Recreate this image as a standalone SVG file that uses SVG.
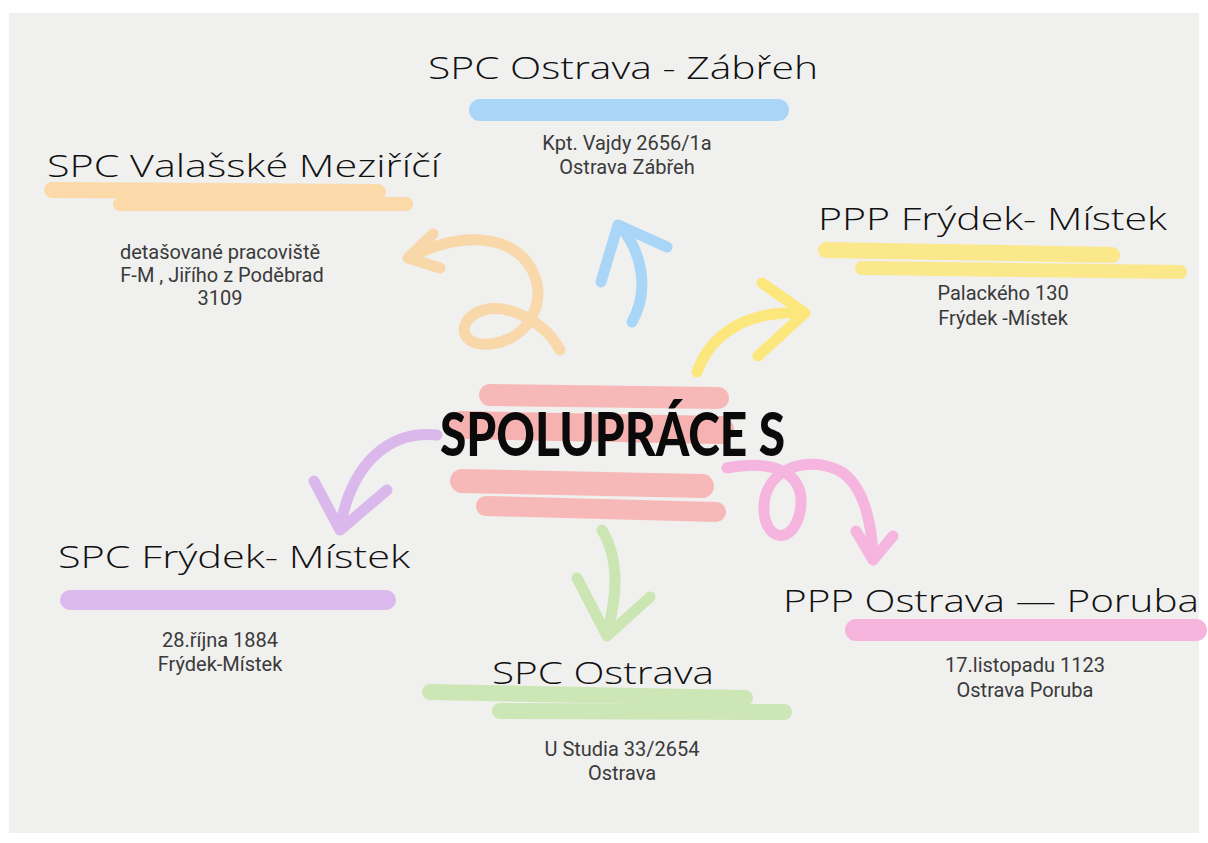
<svg xmlns="http://www.w3.org/2000/svg" width="1208" height="843" viewBox="0 0 1208 843">
<defs>
<style>
.hand{font-family:"Open Sans","Liberation Sans",sans-serif;font-size:31px;fill:#111;font-weight:300}
.addr{font-family:"Roboto","Liberation Sans",sans-serif;font-size:20px;fill:#3a3a3a;text-anchor:middle}
.hl{fill:none;stroke-linecap:round;stroke-linejoin:round}
.arr{fill:none;stroke-width:11;stroke-linecap:round;stroke-linejoin:round}
.title{font-family:"Lato","DejaVu Sans",sans-serif;font-weight:900;font-size:60px;fill:#0a0a0a}
</style>
</defs>
<rect x="0" y="0" width="1208" height="843" fill="#ffffff"/>
<rect x="9" y="13" width="1190" height="820" fill="#f0f0ef"/>

<g id="center">
<path class="hl" d="M490 395 L718 398" stroke="#f7b9b7" stroke-width="22"/>
<path class="hl" d="M462 425 L720 430" stroke="#f6b2b0" stroke-width="28"/>
<path class="hl" d="M462 481 L702 486" stroke="#f7b9b7" stroke-width="24"/>
<path class="hl" d="M486 506 L716 512" stroke="#f7b9b7" stroke-width="20"/>
<text class="title" x="440" y="456" textLength="345" lengthAdjust="spacingAndGlyphs">SPOLUPRÁCE S</text>
</g>

<g id="connectors">
<g stroke="#f9d7a6" opacity="0.95">
<path class="arr" d="M560 350 C545 322 505 300 478 312 C455 324 462 347 490 344 C530 340 548 300 532 270 C515 238 468 228 410 257"/>
<path class="arr" d="M433 234 L408 258 L440 268"/>
</g>
<g stroke="#a9d5f6">
<path class="arr" d="M632 322 C650 290 642 252 620 226"/>
<path class="arr" d="M601 282 L618 225 L667 247"/>
</g>
<g stroke="#fbe77c">
<path class="arr" d="M697 372 C712 330 752 310 804 313"/>
<path class="arr" d="M762 283 L805 313 L758 356"/>
</g>
<g stroke="#dbb8ec">
<path class="arr" d="M437 435 C392 430 352 460 340 528"/>
<path class="arr" d="M314 481 L340 530 L387 490"/>
</g>
<g stroke="#f5b5de">
<path class="arr" d="M727 468 C770 460 808 470 800 512 C792 548 762 540 764 505 C766 470 805 455 838 470 C862 482 872 520 873 558"/>
<path class="arr" d="M856 531 L873 560 L893 536"/>
</g>
<g stroke="#cbe6b3">
<path class="arr" d="M602 530 C621 562 616 600 607 634"/>
<path class="arr" d="M577 578 L607 636 L650 597"/>
</g>
</g>

<g id="node-zabreh">
<path class="hl" d="M480 110 L778 110" stroke="#a9d6f7" stroke-width="22"/>
<text class="hand" x="428" y="79" textLength="390" lengthAdjust="spacingAndGlyphs">SPC Ostrava - Zábřeh</text>
<text class="addr" x="627" y="150">Kpt. Vajdy 2656/1a</text>
<text class="addr" x="627" y="174">Ostrava  Zábřeh</text>
</g>

<g id="node-valmez">
<path class="hl" d="M52 190 L378 192" stroke="#fbd9a9" stroke-width="16"/>
<path class="hl" d="M120 204 L406 204" stroke="#fbd9a9" stroke-width="14"/>
<text class="hand" x="47" y="177" textLength="393" lengthAdjust="spacingAndGlyphs">SPC Valašské Meziříčí</text>
<text class="addr" x="220" y="259">detašované pracoviště</text>
<text class="addr" x="222" y="282">F-M , Jiřího z Poděbrad</text>
<text class="addr" x="220" y="305">3109</text>
</g>

<g id="node-ppp-fm">
<path class="hl" d="M826 250 L1112 255" stroke="#fbe88a" stroke-width="16"/>
<path class="hl" d="M862 268 L1180 272" stroke="#fbe88a" stroke-width="14"/>
<text class="hand" x="818" y="230" textLength="349" lengthAdjust="spacingAndGlyphs">PPP Frýdek- Místek</text>
<text class="addr" x="1003" y="300">Palackého 130</text>
<text class="addr" x="1003" y="325">Frýdek -Místek</text>
</g>

<g id="node-spc-fm">
<path class="hl" d="M70 600 L386 600" stroke="#dcbaed" stroke-width="20"/>
<text class="hand" x="58" y="568" textLength="352" lengthAdjust="spacingAndGlyphs">SPC Frýdek- Místek</text>
<text class="addr" x="220" y="647">28.října 1884</text>
<text class="addr" x="220" y="671">Frýdek-Místek</text>
</g>

<g id="node-ostrava">
<path class="hl" d="M430 692 L745 698" stroke="#cde6b6" stroke-width="16"/>
<path class="hl" d="M500 711 L784 712" stroke="#cde6b6" stroke-width="16"/>
<text class="hand" x="492" y="684" textLength="222" lengthAdjust="spacingAndGlyphs">SPC Ostrava</text>
<text class="addr" x="622" y="756">U Studia 33/2654</text>
<text class="addr" x="622" y="780">Ostrava</text>
</g>

<g id="node-poruba">
<path class="hl" d="M856 630 L1196 630" stroke="#f6b3dc" stroke-width="22"/>
<text class="hand" x="783" y="612" textLength="416" lengthAdjust="spacingAndGlyphs">PPP Ostrava — Poruba</text>
<text class="addr" x="1025" y="672">17.listopadu 1123</text>
<text class="addr" x="1025" y="697">Ostrava Poruba</text>
</g>
</svg>
